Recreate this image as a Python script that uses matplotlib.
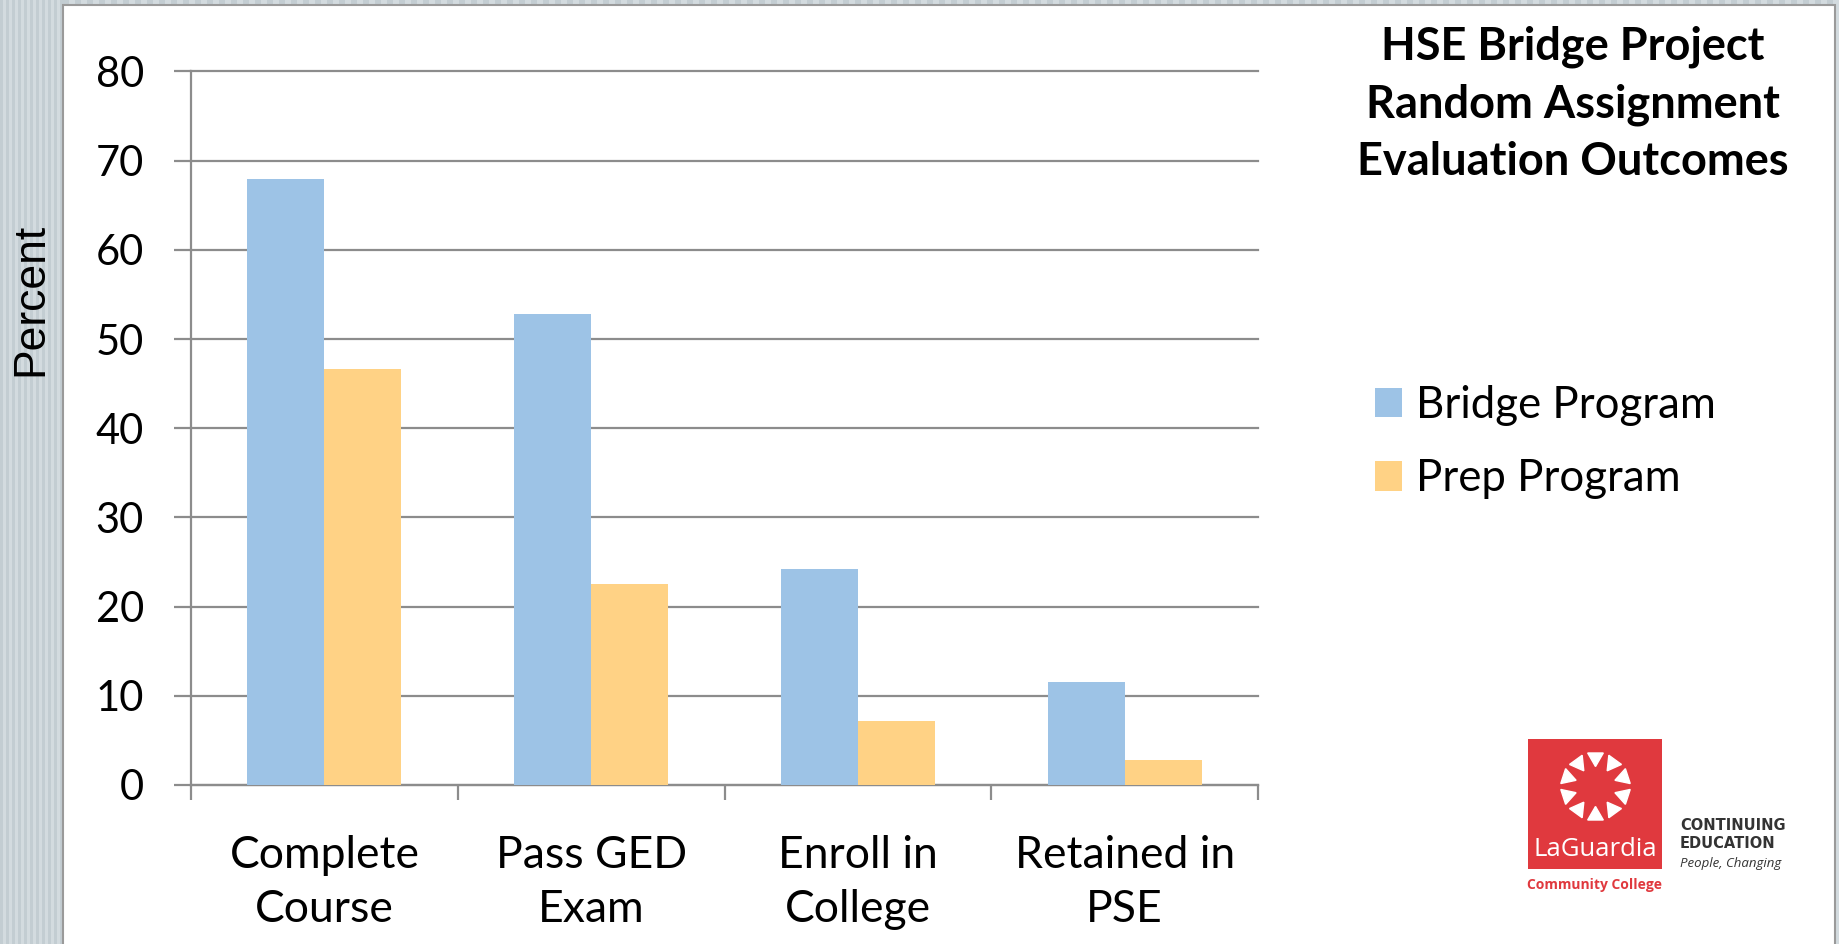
import matplotlib.pyplot as plt
import matplotlib.patches as mpatches
import numpy as np

# Chart data
categories = ['Complete\nCourse', 'Pass GED\nExam', 'Enroll in\nCollege', 'Retained in\nPSE']
bridge = [68.0, 52.8, 24.2, 11.5]
prep = [46.6, 22.5, 7.2, 2.8]
series_names = ['Bridge Program', 'Prep Program']
title_text = 'HSE Bridge Project\nRandom Assignment\nEvaluation Outcomes'

blue = '#9DC3E6'
orange = '#FFD285'
grid_col = '#8C8C8C'
main_font = 'Lato'

W, H = 1839, 944
fig = plt.figure(figsize=(W / 100, H / 100), dpi=100)
fig.patch.set_facecolor('white')

# Slide background: striped grey strip on the left, thin frame top/right
bg = fig.add_axes([0, 0, 1, 1], zorder=-10)
bg.set_xlim(0, W)
bg.set_ylim(H, 0)
bg.axis('off')
bg.add_patch(mpatches.Rectangle((0, 0), W, H, color='#D3DBDF'))
for xs in np.arange(0, 63, 6):
    bg.add_patch(mpatches.Rectangle((xs, 0), 3, H, color='#C3CDD2', lw=0))
for xs in np.arange(63, W, 12):
    bg.add_patch(mpatches.Rectangle((xs, 0), 6, 5, color='#C3CDD2', lw=0))
bg.add_patch(mpatches.Rectangle((63, 5), W - 67, H, facecolor='white',
                                edgecolor='#9A9A9A', lw=1.5))

# Main bar chart
ax = fig.add_axes([191 / W, 1 - 785 / H, (1258 - 191) / W, (785 - 71.5) / H])
x = np.arange(len(categories))
bw = 0.289
ax.bar(x - bw / 2, bridge, bw, color=blue, label=series_names[0], zorder=3)
ax.bar(x + bw / 2, prep, bw, color=orange, label=series_names[1], zorder=3)

ax.set_xlim(-0.5, len(categories) - 0.5)
ax.set_ylim(0, 80)
ax.set_yticks(np.arange(0, 81, 10))
ax.yaxis.grid(True, color=grid_col, lw=1.6, zorder=0)
for gl in ax.yaxis.get_gridlines():
    gl.set_clip_on(False)
for s in ['top', 'right']:
    ax.spines[s].set_visible(False)
for s in ['left', 'bottom']:
    ax.spines[s].set_color(grid_col)
    ax.spines[s].set_linewidth(1.6)

ax.set_xticks(x)
ax.set_xticklabels(categories, fontsize=32, family=main_font, linespacing=1.4)
ax.tick_params(axis='x', which='major', length=0, pad=36)
ax.set_xticks(np.arange(-0.5, len(categories), 1), minor=True)
ax.tick_params(axis='x', which='minor', length=11, width=1.6, color=grid_col)
ax.tick_params(axis='y', length=12, width=1.6, color=grid_col, pad=22)
for lab in ax.get_yticklabels():
    lab.set_fontsize(30)
    lab.set_family(main_font)

# Y axis label
fig.text(31 / W, 1 - 299 / H, 'Percent', rotation=90, ha='center', va='center',
         fontsize=32, family='Liberation Sans')

# Title
fig.text(1573 / W, 1 - 104 / H, title_text, ha='center', va='center',
         fontsize=32.5, fontweight='bold', family=main_font, linespacing=1.45)

# Legend
ax.legend(loc='center left', bbox_to_anchor=(1336 / W, 1 - 442 / H),
          bbox_transform=fig.transFigure, frameon=False,
          prop={'family': main_font, 'size': 31.5},
          handlelength=0.6, handleheight=0.65, handletextpad=0.32,
          labelspacing=0.75)

# LaGuardia logo
logo = fig.add_axes([0, 0, 1, 1], zorder=5)
logo.set_xlim(0, W)
logo.set_ylim(H, 0)
logo.axis('off')
red = '#E0393E'
logo.add_patch(mpatches.Rectangle((1528, 739), 134, 130, color=red, lw=0))
cx, cy, r = 1595, 786, 29
for k in range(10):
    a = np.pi / 2 + k * 2 * np.pi / 10
    px, py = cx + r * np.cos(a), cy - r * np.sin(a)
    logo.plot(px, py, marker=(3, 0, np.degrees(a) + 90), ms=13, color='white',
              mec='white')
logo.text(1595, 849, 'LaGuardia', color='white', ha='center', va='center',
          fontsize=18.5, family='Open Sans')
logo.text(1595, 885, 'Community College', color=red, ha='center', va='center',
          fontsize=10, fontweight='bold', family='Open Sans')
logo.text(1680, 826, 'CONTINUING', color='#333333', ha='left', va='center',
          fontsize=10.5, fontweight='bold', family='DejaVu Sans')
logo.text(1680, 844, 'EDUCATION', color='#333333', ha='left', va='center',
          fontsize=10.5, fontweight='bold', family='DejaVu Sans')
logo.text(1680, 864, 'People, Changing', color='#333333', ha='left', va='center',
          fontsize=9.5, style='italic', family='Open Sans')

plt.savefig('out.png', dpi=100)
plt.close()
